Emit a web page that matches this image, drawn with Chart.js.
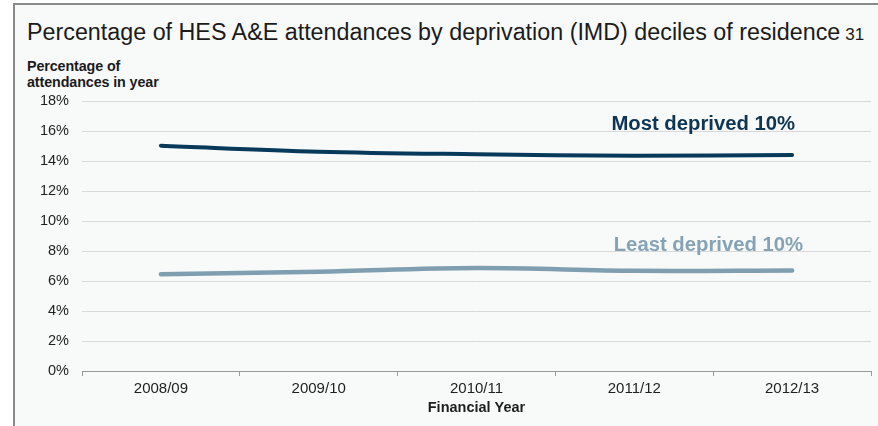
<!DOCTYPE html>
<html>
<head>
<meta charset="utf-8">
<script src="https://cdn.jsdelivr.net/npm/chart.js@4.4.0/dist/chart.umd.min.js"></script>
<style>
  html, body { margin: 0; padding: 0; background: #ffffff; }
  #wrap { position: relative; width: 878px; height: 426px; overflow: hidden; font-family: "Liberation Sans", Arial, sans-serif; }
  #panel { position: absolute; left: 13px; top: 3px; right: 0; bottom: 0; background: #f8f9f9;
           border-left: 2px solid #8a8a8a; border-top: 2px solid #8a8a8a; }
  #title { position: absolute; left: 27px; top: 19px; font-size: 23.3px; color: #1b1b1b; white-space: nowrap; }
  #title span { font-size: 17px; margin-left: 5px; }
  #ytitle { position: absolute; left: 27px; top: 58px; font-size: 14.3px; font-weight: bold; color: #1b1b1b; line-height: 16px; letter-spacing: -0.1px; }
  canvas { position: absolute; left: 0; top: 0; }
</style>
</head>
<body>
<div id="wrap">
  <div id="panel"></div>
  <div id="title">Percentage of HES A&amp;E attendances by deprivation (IMD) deciles of residence<span>31</span></div>
  <div id="ytitle">Percentage of<br>attendances in year</div>
  <canvas id="c" width="878" height="426"></canvas>
</div>
<script>
const years = ["2008/09", "2009/10", "2010/11", "2011/12", "2012/13"];
const mostDeprived = [15.02, 14.62, 14.45, 14.35, 14.40];
const leastDeprived = [6.45, 6.62, 6.87, 6.68, 6.70];
const yTicks = [0, 2, 4, 6, 8, 10, 12, 14, 16, 18];
const mostLabel = "Most deprived 10%";
const leastLabel = "Least deprived 10%";
const mostColor = "#073a5a";
const leastColor = "#7f9fb1";
const FONT = '"Liberation Sans", Arial, sans-serif';

const labelPlugin = {
  id: 'seriesLabels',
  afterDatasetsDraw(chart) {
    const ctx = chart.ctx;
    const xs = chart.scales.x, ys = chart.scales.y;
    const last = years.length - 1;
    ctx.save();
    ctx.font = 'bold 20.3px ' + FONT;
    ctx.textBaseline = 'middle';
    ctx.textAlign = 'right';
    ctx.fillStyle = "#0e3553";
    ctx.fillText(mostLabel, xs.getPixelForValue(last) + 3, ys.getPixelForValue(mostDeprived[last]) - 31);
    ctx.fillStyle = "#86a3b6";
    ctx.fillText(leastLabel, xs.getPixelForValue(last) + 11, ys.getPixelForValue(leastDeprived[last]) - 25);
    ctx.restore();
  }
};

new Chart(document.getElementById('c'), {
  type: 'line',
  data: {
    labels: years,
    datasets: [
      { label: mostLabel, data: mostDeprived, borderColor: mostColor, borderWidth: 4, pointRadius: 0, tension: 0.35, borderCapStyle: 'round', fill: false },
      { label: leastLabel, data: leastDeprived, borderColor: leastColor, borderWidth: 4.5, pointRadius: 0, tension: 0.35, borderCapStyle: 'round', fill: false }
    ]
  },
  options: {
    responsive: false,
    animation: false,
    events: [],
    layout: { padding: { left: 0, right: 7, top: 101, bottom: 9 } },
    plugins: { legend: { display: false }, tooltip: { enabled: false } },
    scales: {
      x: {
        offset: true,
        grid: { display: true, offset: true, drawOnChartArea: false, tickLength: 5, color: '#9a9a9a' },
        border: { display: true, color: '#9a9a9a', width: 1 },
        ticks: { color: '#1e1e1e', font: { family: FONT, size: 15 }, padding: 4, maxRotation: 0 },
        title: { display: true, text: 'Financial Year', color: '#1e1e1e', font: { family: FONT, size: 14.5, weight: 'bold' }, padding: { top: 0, bottom: 0 } },
        afterFit(s) { s.height = 46; }
      },
      y: {
        min: 0, max: 18,
        afterBuildTicks(s) { s.ticks = yTicks.map(v => ({ value: v })); },
        grid: { color: '#d9d9d9', drawTicks: false, lineWidth: 1 },
        border: { display: false },
        ticks: { color: '#1e1e1e', padding: 13, font: { family: FONT, size: 14.5 }, callback: v => v + '%' },
        afterFit(s) { s.width = 82; }
      }
    }
  },
  plugins: [labelPlugin]
});
</script>
</body>
</html>
